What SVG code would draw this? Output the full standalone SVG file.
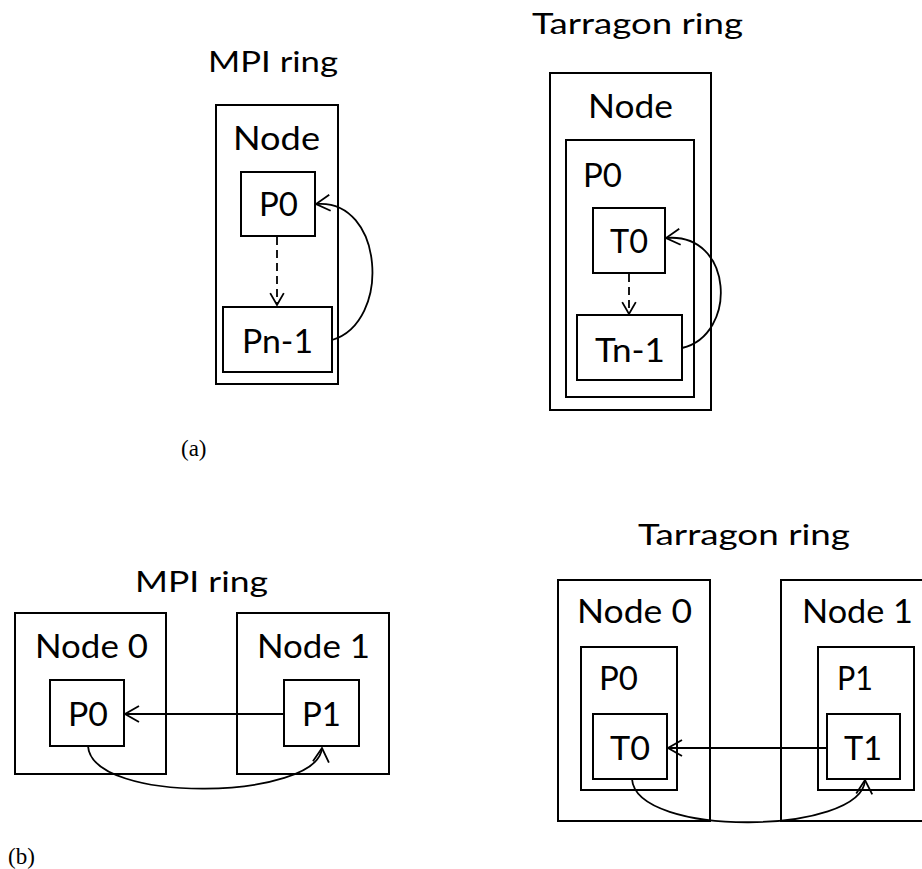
<svg xmlns="http://www.w3.org/2000/svg" width="922" height="869" viewBox="0 0 922 869">
<defs>
<style>
rect{fill:none;stroke:#000;stroke-width:2}
.t{font-family:Lato,Carlito,"Liberation Sans",sans-serif;fill:#000}
.h{font-size:29px}
.n{font-size:32px}
.cap{font-family:"Liberation Serif","Times New Roman",serif;font-size:23px;fill:#000}
.c{fill:none;stroke:#000;stroke-width:1.8}
.d{stroke-dasharray:8 5}
</style>
<marker id="ah" viewBox="0 0 20 20" refX="18" refY="10" markerWidth="20" markerHeight="20" markerUnits="userSpaceOnUse" orient="auto">
<path d="M4,2 L18,10 L4,18" fill="none" stroke="#000" stroke-width="1.8"/>
</marker>
<marker id="ahs" viewBox="0 0 20 20" refX="18" refY="10" markerWidth="17" markerHeight="17" markerUnits="userSpaceOnUse" orient="auto">
<path d="M4,2 L18,10 L4,18" fill="none" stroke="#000" stroke-width="2.1"/>
</marker>
</defs>

<!-- (a) MPI ring -->
<text class="t h" x="208" y="72" textLength="130" lengthAdjust="spacingAndGlyphs">MPI ring</text>
<g id="a-mpi-node">
<rect x="216" y="105" width="122" height="279"/>
<text class="t n" x="233" y="150" textLength="87" lengthAdjust="spacingAndGlyphs">Node</text>
</g>
<g id="a-mpi-p0">
<rect x="241" y="172" width="74" height="64"/>
<text class="t n" x="259" y="216" textLength="39" lengthAdjust="spacingAndGlyphs">P0</text>
</g>
<g id="a-mpi-pn1">
<rect x="223" y="307" width="109" height="65"/>
<text class="t n" x="242" y="353" textLength="71" lengthAdjust="spacingAndGlyphs">Pn-1</text>
</g>

<!-- (a) Tarragon ring -->
<text class="t h" x="532" y="34" textLength="211" lengthAdjust="spacingAndGlyphs">Tarragon ring</text>
<g id="a-tar-node">
<rect x="550" y="73" width="161" height="337"/>
<text class="t n" x="588" y="118" textLength="85" lengthAdjust="spacingAndGlyphs">Node</text>
</g>
<g id="a-tar-p0">
<rect x="566" y="140" width="128" height="257"/>
<text class="t n" x="583" y="187" textLength="39" lengthAdjust="spacingAndGlyphs">P0</text>
</g>
<g id="a-tar-t0">
<rect x="593" y="208" width="72" height="65"/>
<text class="t n" x="610" y="253" textLength="38" lengthAdjust="spacingAndGlyphs">T0</text>
</g>
<g id="a-tar-tn1">
<rect x="577" y="315" width="105" height="65"/>
<text class="t n" x="595" y="362" textLength="70" lengthAdjust="spacingAndGlyphs">Tn-1</text>
</g>

<text class="cap" x="181" y="456">(a)</text>

<!-- (b) MPI ring -->
<text class="t h" x="135" y="592" textLength="133" lengthAdjust="spacingAndGlyphs">MPI ring</text>
<g id="b-mpi-node0">
<rect x="15" y="613" width="151" height="161"/>
<text class="t n" x="35" y="658" textLength="113" lengthAdjust="spacingAndGlyphs">Node 0</text>
</g>
<g id="b-mpi-p0">
<rect x="50" y="680" width="74" height="66"/>
<text class="t n" x="68" y="726" textLength="40" lengthAdjust="spacingAndGlyphs">P0</text>
</g>
<g id="b-mpi-node1">
<rect x="237" y="613" width="152" height="161"/>
<text class="t n" x="257" y="658" textLength="113" lengthAdjust="spacingAndGlyphs">Node 1</text>
</g>
<g id="b-mpi-p1">
<rect x="284" y="680" width="75" height="66"/>
<text class="t n" x="302" y="726" textLength="39" lengthAdjust="spacingAndGlyphs">P1</text>
</g>

<!-- (b) Tarragon ring -->
<text class="t h" x="638" y="545" textLength="212" lengthAdjust="spacingAndGlyphs">Tarragon ring</text>
<g id="b-tar-node0">
<rect x="558" y="580" width="152" height="241"/>
<text class="t n" x="577" y="623" textLength="115" lengthAdjust="spacingAndGlyphs">Node 0</text>
</g>
<g id="b-tar-p0">
<rect x="581" y="647" width="96" height="143"/>
<text class="t n" x="599" y="690" textLength="39" lengthAdjust="spacingAndGlyphs">P0</text>
</g>
<g id="b-tar-t0">
<rect x="593" y="714" width="74" height="65"/>
<text class="t n" x="610" y="760" textLength="40" lengthAdjust="spacingAndGlyphs">T0</text>
</g>
<g id="b-tar-node1">
<rect x="781" y="580" width="160" height="241"/>
<text class="t n" x="802" y="623" textLength="111" lengthAdjust="spacingAndGlyphs">Node 1</text>
</g>
<g id="b-tar-p1">
<rect x="818" y="647" width="96" height="143"/>
<text class="t n" x="837" y="690" textLength="36" lengthAdjust="spacingAndGlyphs">P1</text>
</g>
<g id="b-tar-t1">
<rect x="827" y="714" width="73" height="65"/>
<text class="t n" x="844" y="760" textLength="38" lengthAdjust="spacingAndGlyphs">T1</text>
</g>

<text class="cap" x="8" y="864">(b)</text>

<g id="connectors">
<line class="c d" x1="277" y1="237" x2="277" y2="305" marker-end="url(#ahs)"/>
<path class="c" d="M332,340 C392,322 384,198 316,204" marker-end="url(#ah)"/>
<line class="c d" x1="629" y1="274" x2="629" y2="314" marker-end="url(#ahs)"/>
<path class="c" d="M682,348 C738,335 734,232 666,238" marker-end="url(#ah)"/>
<line class="c" x1="284" y1="714" x2="125" y2="714" marker-end="url(#ah)"/>
<path class="c" d="M88,746 C92,805 318,800 322,748" marker-end="url(#ah)"/>
<line class="c" x1="827" y1="748" x2="668" y2="748" marker-end="url(#ah)"/>
<path class="c" d="M632,779 C636,838 862,835 865,780" marker-end="url(#ah)"/>
</g>
</svg>
